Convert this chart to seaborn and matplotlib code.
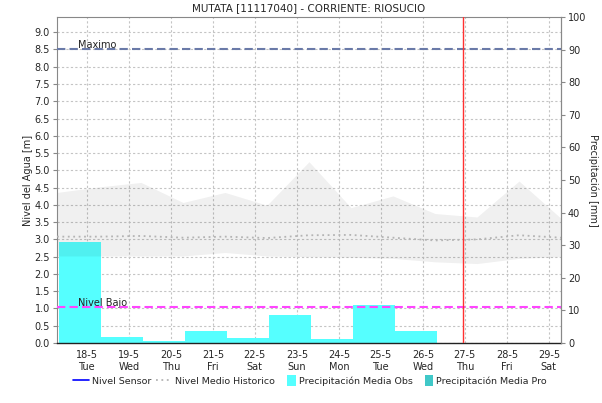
import numpy as np
import pandas as pd
import matplotlib
matplotlib.use("Agg")
import matplotlib.pyplot as plt
from matplotlib.lines import Line2D
from matplotlib.patches import Patch, Rectangle
from matplotlib.legend_handler import HandlerPatch
import seaborn as sns

# data
dias = ["18-5", "19-5", "20-5", "21-5", "22-5", "23-5", "24-5", "25-5", "26-5", "27-5", "28-5", "29-5"]
semana = ["Tue", "Wed", "Thu", "Fri", "Sat", "Sun", "Mon", "Tue", "Wed", "Thu", "Fri", "Sat"]

# precipitacion observada [mm], one bar per day, starting the day before 18-5
precip_obs = [31.0, 1.9, 0.6, 3.7, 1.6, 8.6, 1.1, 11.6, 3.7]

# historical band [m], daily points from 17-5 to 29-5
hist_max = [4.36, 4.52, 4.65, 4.07, 4.36, 3.99, 5.25, 3.92, 4.26, 3.75, 3.65, 4.69, 3.61]
hist_min = [2.52, 2.52, 2.52, 2.52, 2.62, 2.52, 2.50, 2.48, 2.45, 2.35, 2.30, 2.45, 2.50]
hist_medio = [3.08, 3.08, 3.10, 3.05, 3.08, 3.04, 3.12, 3.13, 3.05, 2.97, 3.00, 3.12, 3.05]

nivel_max = 8.5
nivel_bajo = 1.05
dia_actual = "27-5"

# axis scales
y_top_m = 9.44
y_top_mm = 100
mm_to_m = y_top_m / y_top_mm

sns.set_style("white")
plt.rcParams["font.family"] = ["DejaVu Sans"]

fig = plt.figure(figsize=(6.02, 4.03), dpi=100)
ax = fig.add_axes([57 / 602, 1 - 343 / 403, 504 / 602, 326 / 403])

x_dias = np.arange(len(dias))
x_band = np.arange(-1, len(dias)) + 0.29
x_bars = np.arange(-1, len(precip_obs) - 1) + 0.333

df_hist = pd.DataFrame({"x": x_band, "medio": hist_medio, "max": hist_max, "min": hist_min})

# grid
ax.set_yticks(np.arange(0, 9.01, 0.5))
ax.set_xticks(x_dias)
ax.grid(True, color="#c4c4c4", linestyle=(0, (2, 2)), linewidth=0.8, zorder=0)
ax.set_axisbelow(True)

# precipitation bars (drawn in metres so they sit under the band)
ax.bar(x_bars, np.array(precip_obs) * mm_to_m, width=1.0, align="edge",
       color="#55ffff", edgecolor="none", zorder=1)

# historic band and mean
ax.fill_between(df_hist["x"], df_hist["min"], df_hist["max"], color="black",
                alpha=0.06, linewidth=0, zorder=2)
sns.lineplot(data=df_hist, x="x", y="medio", ax=ax, color="#b4b4b4",
             linewidth=1.3, linestyle=(0, (1, 2)), zorder=3)

# reference levels
ax.axhline(nivel_max, color="#6a7aa8", linewidth=1.5, linestyle=(0, (4, 2)), zorder=4)
ax.axhline(nivel_bajo, color="#ff44ff", linewidth=1.5, linestyle=(0, (4, 2)), zorder=4)
ax.text(-0.22, nivel_max - 0.03, "Maximo", fontsize=7, color="#222222", va="bottom")
ax.text(-0.22, nivel_bajo - 0.03, "Nivel Bajo", fontsize=7, color="#222222", va="bottom")
ax.axvline(dias.index(dia_actual) - 0.04, color="#ff3030", linewidth=1.0, zorder=5)

ax.set_xlim(x_band[0], x_band[-1])
ax.set_ylim(0, y_top_m)
ax.set_xticklabels([f"{d}\n{s}" for d, s in zip(dias, semana)], linespacing=1.3)
ax.set_yticklabels([f"{v:.1f}" for v in np.arange(0, 9.01, 0.5)])
ax.set_xlabel("")
ax.set_ylabel("Nivel del Agua [m]", fontsize=7, labelpad=1)
ax.tick_params(axis="y", labelsize=7, length=3, width=0.8, color="#888888", pad=2)
ax.tick_params(axis="x", labelsize=7, length=2, width=0.8, color="#888888", pad=3)

for s in ["top", "left", "right"]:
    ax.spines[s].set_color("#888888")
    ax.spines[s].set_linewidth(0.8)
ax.spines["bottom"].set_color("#222222")
ax.spines["bottom"].set_linestyle((0, (1, 1)))
ax.spines["bottom"].set_linewidth(1.0)

# precipitation axis on the right
ax2 = ax.twinx()
ax2.set_ylim(0, y_top_mm)
ax2.set_yticks(np.arange(0, 101, 10))
ax2.tick_params(axis="y", labelsize=7, length=3, width=0.8, color="#888888", pad=2)
for s in ["top", "left", "bottom"]:
    ax2.spines[s].set_visible(False)
ax2.spines["right"].set_color("#888888")
ax2.spines["right"].set_linewidth(0.8)
ax2.set_ylabel("Precipitación [mm]", fontsize=7, rotation=-90, labelpad=9)

ax.set_title("MUTATA [11117040] - CORRIENTE: RIOSUCIO", fontsize=7.5, pad=4)


def caja(legend, orig_handle, xdescent, ydescent, width, height, fontsize):
    # small square pushed against the label, like the original chart
    return Rectangle((width - 6, -1.5), 6, 7.5)


handles = [
    Line2D([], [], color="#0000ff", linewidth=1.2),
    Line2D([], [], color="#b4b4b4", linewidth=1.3, linestyle=(0, (1, 2))),
    Patch(facecolor="#55ffff", edgecolor="none"),
    Patch(facecolor="#40c8c8", edgecolor="none"),
]
labels = ["Nivel Sensor", "Nivel Medio Historico", "Precipitación Media Obs", "Precipitación Media Pro"]
fig.legend(handles, labels, loc="center", bbox_to_anchor=(0.515, 0.055), ncol=4,
           frameon=False, fontsize=6.8, handlelength=1.7, handletextpad=0.3,
           columnspacing=0.5, handler_map={Patch: HandlerPatch(patch_func=caja)})

fig.savefig("out.png", dpi=100)
plt.close(fig)
